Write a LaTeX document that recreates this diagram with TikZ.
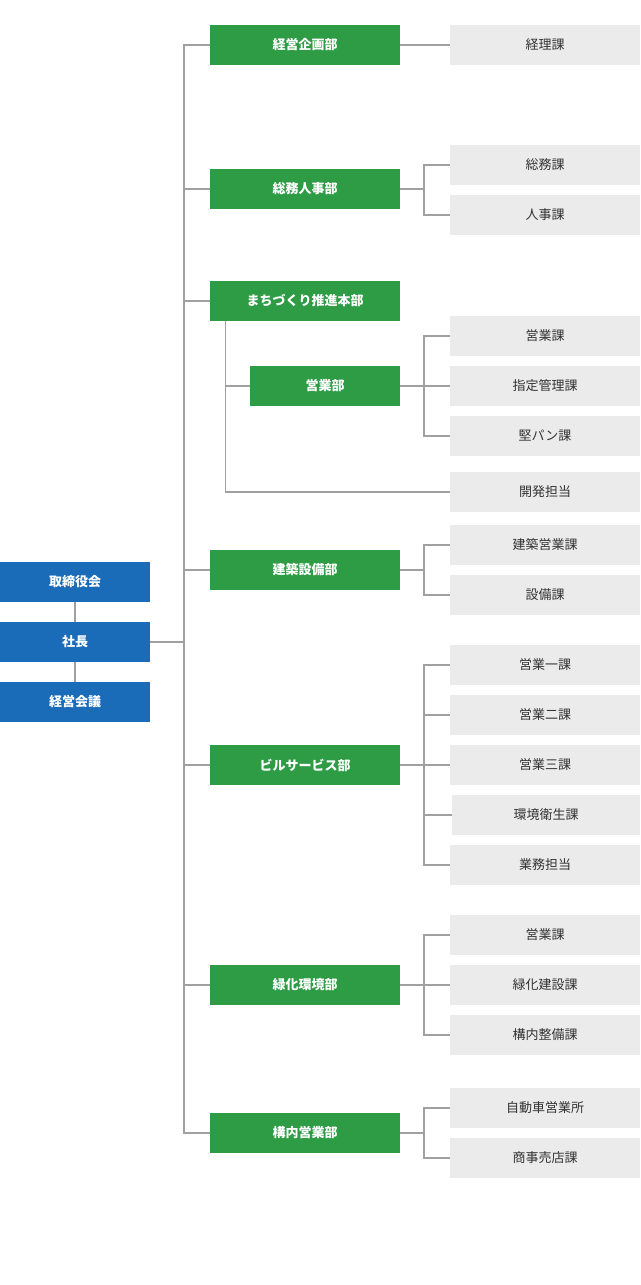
\documentclass[tikz,border=0pt]{standalone}
\usepackage{fontspec}
\setmainfont{Noto Sans CJK JP}
\usetikzlibrary{calc}
\definecolor{topblue}{HTML}{1A6BB8}
\definecolor{deptgreen}{HTML}{2E9B45}
\definecolor{secgray}{HTML}{EBEBEB}
\definecolor{linegray}{HTML}{A0A0A0}
\tikzset{
	TB/.style={fill=topblue,text=white,font=\bfseries\fontsize{13}{15}\selectfont,minimum width=150pt,minimum height=40pt,inner sep=0pt},
	DB/.style={fill=deptgreen,text=white,font=\bfseries\fontsize{13}{15}\selectfont,minimum width=#1,minimum height=40pt,inner sep=0pt},
	DB/.default=190pt,
	SB/.style={fill=secgray,text=black!80,font=\fontsize{13}{15}\selectfont,minimum width=190pt,minimum height=40pt,inner sep=0pt},
	LN/.style={draw=linegray,line width=1.2pt}
}
\begin{document}
\begin{tikzpicture}[x=1pt,y=-1pt]
	\useasboundingbox (0,0) rectangle (640,1285);
	% top
	\node[TB] (T1) at (75,582) {取締役会};
	\node[TB] (T2) at (75,642) {社長};
	\node[TB] (T3) at (75,702) {経営会議};
	\draw[LN] (T1) -- (T2) (T2) -- (T3);
	% departments
	\foreach \n/\y/\t in {D1/45/経営企画部,D2/189/総務人事部,D3/301/まちづくり推進本部,D4/570/建築設備部,D5/765/ビルサービス部,D6/985/緑化環境部,D7/1133/構内営業部}{
		\node[DB] (\n) at (305,\y) {\t};
		\draw[LN] (\n.west) -- (184,\y);
	}
	\node[DB=150pt] (D3a) at (325,386) {営業部};
	\draw[LN] (D1.west) -| (184,1133) -- (D7.west);
	\draw[LN] (T2.east) -- (184,642);
	% sections
	\foreach \n/\y/\t in {S1/45/経理課,S2/165/総務課,S3/215/人事課,S4/336/営業課,S5/386/指定管理課,S6/436/堅パン課,S7/492/開発担当,S8/545/建築営業課,S9/595/設備課,S10/665/営業一課,S11/715/営業二課,S12/765/営業三課,S14/865/業務担当,S15/935/営業課,S16/985/緑化建設課,S17/1035/構内整備課,S18/1108/自動車営業所,S19/1158/商事売店課}{
		\node[SB] (\n) at (545,\y) {\t};
	}
	\node[SB,minimum width=188pt] (S13) at (546,815) {環境衛生課};
	\draw[LN] (D1.east) -- (S1.west);
	\draw[LN] (D2.east) -- (424,189) (S2.west) -| (424,215) -- (S3.west);
	\draw[LN] ($(D3.south west)+(16,0)$) |- (S7.west);
	\draw[LN] (226,386) -- (D3a.west);
	\draw[LN] (D3a.east) -- (S5.west) (S4.west) -| (424,436) -- (S6.west);
	\draw[LN] (D4.east) -- (424,570) (S8.west) -| (424,595) -- (S9.west);
	\draw[LN] (D5.east) -- (S12.west) (S10.west) -| (424,865) -- (S14.west);
	\draw[LN] (424,715) -- (S11.west) (424,815) -- (S13.west);
	\draw[LN] (D6.east) -- (S16.west) (S15.west) -| (424,1035) -- (S17.west);
	\draw[LN] (D7.east) -- (424,1133) (S18.west) -| (424,1158) -- (S19.west);
\end{tikzpicture}
\end{document}
